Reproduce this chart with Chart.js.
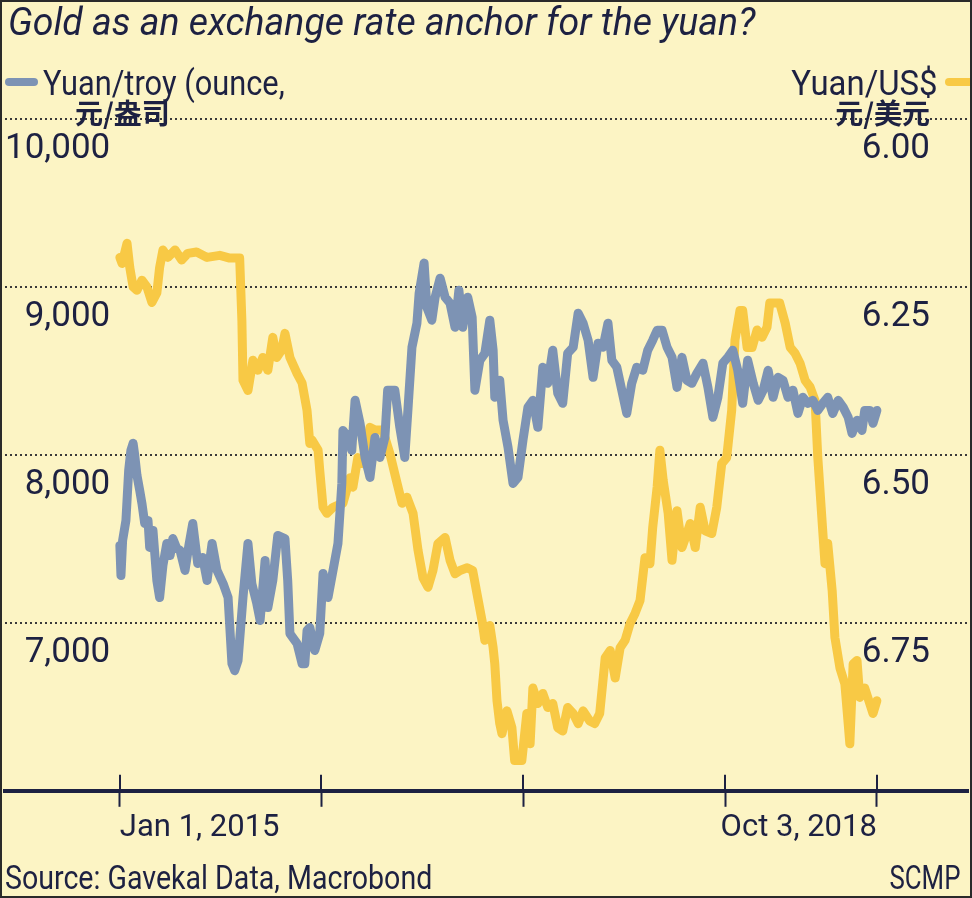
<!DOCTYPE html>
<html>
<head>
<meta charset="utf-8">
<script src="https://cdn.jsdelivr.net/npm/chart.js@4.4.1/dist/chart.umd.min.js"></script>
<style>
  body { margin: 0; background: #fff; }
  #wrap { position: relative; width: 972px; height: 898px; background: #fcf4c4; overflow: hidden;
          font-family: Roboto, "DejaVu Sans Condensed", sans-serif; color: #1d2142; }
  #wrap canvas { position: absolute; left: 0; top: 0; }
  .txt { position: absolute; white-space: nowrap; line-height: 1; }
  .l { transform-origin: left top; }
  .r { transform-origin: right top; }
  .cjk { font-family: "Noto Sans CJK SC", sans-serif; font-weight: 700; font-size: 28px; }
  .bar { position: absolute; height: 8px; border-radius: 4px; }
  #frame { position: absolute; left: 0; top: 0; width: 972px; height: 898px; box-sizing: border-box;
           border: 2px solid #2a2a2a; pointer-events: none; }
</style>
</head>
<body>
<div id="wrap">
  <canvas id="chart" width="972" height="898"></canvas>
  <div class="txt l" style="left:8px; top:3px; font-size:39px; font-style:italic; transform:scaleX(0.96);">Gold as an exchange rate anchor for the yuan?</div>
  <div class="bar" style="left:5px; top:78px; width:33px; background:#7d93b4;"></div>
  <div class="txt l" style="left:43px; top:66px; font-size:35px; transform:scaleX(0.88);">Yuan/troy (ounce,</div>
  <div class="txt cjk" style="left:75px; top:98px;">元/盎司</div>
  <div class="txt r" style="right:34px; top:66px; font-size:35px; transform:scaleX(0.94);">Yuan/US$</div>
  <div class="bar" style="left:945px; top:78px; width:34px; background:#f8c945;"></div>
  <div class="txt cjk" style="right:42px; top:98px;">元/美元</div>
  <div class="txt l" style="left:5px; top:860px; font-size:34px; transform:scaleX(0.84);">Source: Gavekal Data, Macrobond</div>
  <div class="txt r" style="right:12px; top:860px; font-size:34px; transform:scaleX(0.76);">SCMP</div>
  <div id="frame"></div>
</div>
<script>
// days counted from Jan 1, 2015
var xTickDays = [0, 365, 731, 1096, 1371];
var xTickLabels = ['Jan 1, 2015', '', '', '', 'Oct 3, 2018'];

var goldTicks = [6000, 7000, 8000, 9000, 10000];
var goldTickLabels = ['', '7,000', '8,000', '9,000', '10,000'];
var fxTicks = [6, 6.25, 6.5, 6.75, 7];
var fxTickLabels = ['6.00', '6.25', '6.50', '6.75', ''];

// yuan per troy ounce of gold
var goldDays = [0, 2, 5, 11, 16, 20, 24, 27, 31, 36, 40, 45, 51, 54, 60, 67, 72, 78, 85, 91,
  96, 103, 109, 118, 125, 132, 141, 150, 158, 167, 176, 187, 196, 203, 208, 214, 223, 232, 239, 248,
  254, 263, 268, 277, 286, 299, 304, 308, 321, 330, 335, 339, 344, 353, 362, 368, 377, 386, 395, 402,
  404, 413, 420, 426, 435, 444, 453, 462, 471, 480, 485, 498, 507, 516, 522, 529, 538, 542, 551, 556,
  565, 571, 580, 589, 598, 607, 614, 621, 630, 638, 643, 652, 661, 670, 676, 679, 688, 694, 703, 712,
  721, 730, 739, 748, 757, 766, 775, 784, 793, 802, 811, 821, 830, 839, 848, 857, 866, 875, 884, 891,
  900, 909, 918, 927, 936, 947, 956, 965, 973, 982, 991, 1000, 1009, 1018, 1027, 1036, 1045, 1056, 1065, 1074,
  1083, 1092, 1101, 1110, 1119, 1128, 1137, 1147, 1156, 1165, 1174, 1183, 1192, 1201, 1210, 1219, 1228, 1237, 1246, 1255,
  1264, 1273, 1282, 1291, 1301, 1310, 1319, 1326, 1335, 1344, 1349, 1358, 1364, 1371];
var goldValues = [7461, 7282, 7490, 7610, 7908, 8027, 8069, 7997, 7878, 7788, 7711, 7592, 7610, 7449, 7550, 7252, 7151, 7341, 7473, 7401,
  7502, 7443, 7431, 7312, 7461, 7592, 7353, 7389, 7252, 7473, 7312, 7234, 7151, 6757, 6715, 6775, 7151, 7473, 7234, 7115,
  7014, 7371, 7091, 7252, 7520, 7502, 7252, 6936, 6876, 6757, 6757, 6954, 6972, 6835, 6936, 7294, 7151, 7312, 7473, 7830,
  8146, 8104, 8027, 8325, 8188, 7985, 7866, 8104, 7985, 8104, 8385, 8385, 8164, 7985, 8283, 8641, 8784, 8963, 9142, 8879,
  8802, 8939, 9052, 8939, 8903, 8760, 8981, 8760, 8939, 8820, 8385, 8563, 8605, 8802, 8623, 8343, 8444, 8206, 8045, 7830,
  7866, 8087, 8283, 8325, 8164, 8522, 8426, 8623, 8367, 8307, 8605, 8641, 8844, 8784, 8683, 8462, 8665, 8641, 8784, 8563,
  8522, 8385, 8247, 8426, 8522, 8504, 8623, 8683, 8742, 8742, 8641, 8581, 8402, 8581, 8444, 8426, 8486, 8546, 8402, 8224,
  8343, 8546, 8581, 8623, 8504, 8307, 8563, 8426, 8325, 8385, 8504, 8343, 8462, 8444, 8343, 8385, 8247, 8343, 8307, 8325,
  8265, 8307, 8343, 8247, 8325, 8283, 8224, 8128, 8206, 8146, 8265, 8265, 8188, 8265];

// yuan per US dollar
var fxDays = [0, 4, 13, 18, 24, 31, 40, 49, 58, 67, 72, 78, 87, 100, 112, 123, 139, 158, 181, 199,
  217, 221, 223, 232, 241, 250, 259, 268, 277, 284, 293, 299, 308, 321, 330, 339, 344, 348, 359, 362,
  368, 375, 386, 395, 404, 417, 422, 431, 440, 453, 462, 476, 489, 502, 511, 520, 531, 540, 549, 558,
  567, 576, 589, 598, 607, 616, 629, 639, 648, 656, 661, 670, 676, 679, 683, 688, 692, 701, 710, 715,
  728, 737, 743, 748, 757, 766, 775, 784, 793, 802, 811, 821, 830, 839, 851, 860, 869, 879, 888, 897,
  906, 915, 924, 933, 942, 951, 960, 965, 973, 978, 984, 993, 1000, 1009, 1018, 1027, 1033, 1042, 1051, 1060,
  1072, 1081, 1090, 1099, 1108, 1114, 1123, 1128, 1136, 1145, 1154, 1163, 1172, 1177, 1186, 1195, 1205, 1214, 1223, 1232,
  1241, 1250, 1259, 1264, 1272, 1277, 1282, 1290, 1295, 1304, 1313, 1319, 1322, 1328, 1335, 1340, 1349, 1358, 1364, 1371];
var fxValues = [6.206, 6.215, 6.185, 6.221, 6.250, 6.255, 6.240, 6.250, 6.273, 6.259, 6.221, 6.195, 6.206, 6.195, 6.210, 6.200, 6.198, 6.206, 6.203, 6.207,
  6.207, 6.300, 6.389, 6.404, 6.359, 6.374, 6.355, 6.374, 6.325, 6.355, 6.344, 6.319, 6.355, 6.379, 6.393, 6.434, 6.483, 6.478, 6.493, 6.523,
  6.578, 6.587, 6.578, 6.575, 6.572, 6.534, 6.548, 6.504, 6.513, 6.459, 6.463, 6.463, 6.498, 6.542, 6.572, 6.563, 6.587, 6.642, 6.683, 6.697,
  6.672, 6.632, 6.623, 6.657, 6.677, 6.672, 6.668, 6.672, 6.712, 6.747, 6.776, 6.754, 6.787, 6.811, 6.866, 6.900, 6.915, 6.881, 6.906, 6.955,
  6.955, 6.885, 6.930, 6.847, 6.870, 6.855, 6.876, 6.870, 6.906, 6.911, 6.876, 6.885, 6.900, 6.881, 6.896, 6.900, 6.885, 6.802, 6.791, 6.832,
  6.787, 6.776, 6.751, 6.736, 6.717, 6.653, 6.662, 6.608, 6.548, 6.493, 6.538, 6.587, 6.657, 6.583, 6.638, 6.617, 6.602, 6.638, 6.578, 6.613,
  6.617, 6.578, 6.513, 6.504, 6.434, 6.329, 6.285, 6.285, 6.340, 6.340, 6.314, 6.325, 6.310, 6.274, 6.274, 6.274, 6.304, 6.340, 6.349, 6.364,
  6.389, 6.399, 6.419, 6.504, 6.602, 6.662, 6.632, 6.702, 6.772, 6.817, 6.841, 6.900, 6.930, 6.811, 6.806, 6.861, 6.847, 6.870, 6.885, 6.866];

var ink = '#1d2142';
var goldColor = '#7d93b4';
var fxColor = '#f8c945';
var fontFamily = 'Roboto, "DejaVu Sans Condensed", sans-serif';
var axisFont = { family: fontFamily, size: 35 };

// upper half of the year ticks, above the axis line
var tickMarks = {
  id: 'tickMarks',
  afterDraw: function (chart) {
    var sx = chart.scales.x;
    var ctx = chart.ctx;
    var b = chart.chartArea.bottom;
    ctx.save();
    ctx.strokeStyle = ink;
    ctx.lineWidth = 2;
    sx.ticks.forEach(function (t) {
      var px = Math.round(sx.getPixelForValue(t.value));
      ctx.beginPath();
      ctx.moveTo(px, b - 16);
      ctx.lineTo(px, b);
      ctx.stroke();
    });
    ctx.restore();
  }
};

// right-hand (Yuan/US$) labels sit inside the plot, below each grid line
var rightLabels = {
  id: 'rightLabels',
  afterDraw: function (chart) {
    var s = chart.scales.y2;
    var ctx = chart.ctx;
    ctx.save();
    ctx.font = '35px ' + fontFamily;
    ctx.fillStyle = ink;
    ctx.textAlign = 'right';
    ctx.textBaseline = 'middle';
    fxTicks.forEach(function (v, i) {
      ctx.fillText(fxTickLabels[i], chart.chartArea.right - 38, s.getPixelForValue(v) + 30);
    });
    ctx.restore();
  }
};

var goldPoints = goldDays.map(function (d, i) { return { x: d, y: goldValues[i] }; });
var fxPoints = fxDays.map(function (d, i) { return { x: d, y: fxValues[i] }; });

new Chart(document.getElementById('chart'), {
  type: 'line',
  data: {
    datasets: [
      {
        label: 'Yuan/troy ounce',
        data: goldPoints,
        yAxisID: 'y',
        borderColor: goldColor,
        borderWidth: 9,
        pointRadius: 0,
        borderJoinStyle: 'round',
        borderCapStyle: 'round'
      },
      {
        label: 'Yuan/US$',
        data: fxPoints,
        yAxisID: 'y2',
        borderColor: fxColor,
        borderWidth: 9,
        pointRadius: 0,
        borderJoinStyle: 'round',
        borderCapStyle: 'round'
      }
    ]
  },
  options: {
    responsive: false,
    animation: false,
    devicePixelRatio: 1,
    layout: { padding: { left: 5, right: 4, top: 119, bottom: 48 } },
    plugins: { legend: { display: false }, tooltip: { enabled: false } },
    scales: {
      x: {
        type: 'linear',
        min: -208,
        max: 1536,
        afterBuildTicks: function (s) { s.ticks = xTickDays.map(function (v) { return { value: v }; }); },
        ticks: {
          autoSkip: false, maxRotation: 0, align: 'inner', padding: 3, color: ink,
          font: { family: fontFamily, size: 31 },
          callback: function (v, i) { return xTickLabels[i]; }
        },
        grid: { drawOnChartArea: false, drawTicks: true, tickLength: 16, tickWidth: 2, tickColor: ink, color: ink },
        border: { display: true, color: ink, width: 4 }
      },
      y: {
        position: 'left',
        min: 6000,
        max: 10000,
        afterBuildTicks: function (s) { s.ticks = goldTicks.map(function (v) { return { value: v }; }); },
        ticks: {
          mirror: true, crossAlign: 'far', padding: 0, labelOffset: 30, color: ink,
          font: axisFont,
          callback: function (v, i) { return goldTickLabels[i]; }
        },
        grid: { color: '#3a3a3a', lineWidth: 2, drawTicks: false },
        border: { display: false, dash: [2, 3] }
      },
      y2: {
        position: 'right',
        min: 6,
        max: 7,
        reverse: true,
        display: true,
        afterBuildTicks: function (s) { s.ticks = fxTicks.map(function (v) { return { value: v }; }); },
        ticks: { display: false },
        grid: { display: false, drawTicks: false },
        border: { display: false }
      }
    }
  },
  plugins: [tickMarks, rightLabels]
});
</script>
</body>
</html>
